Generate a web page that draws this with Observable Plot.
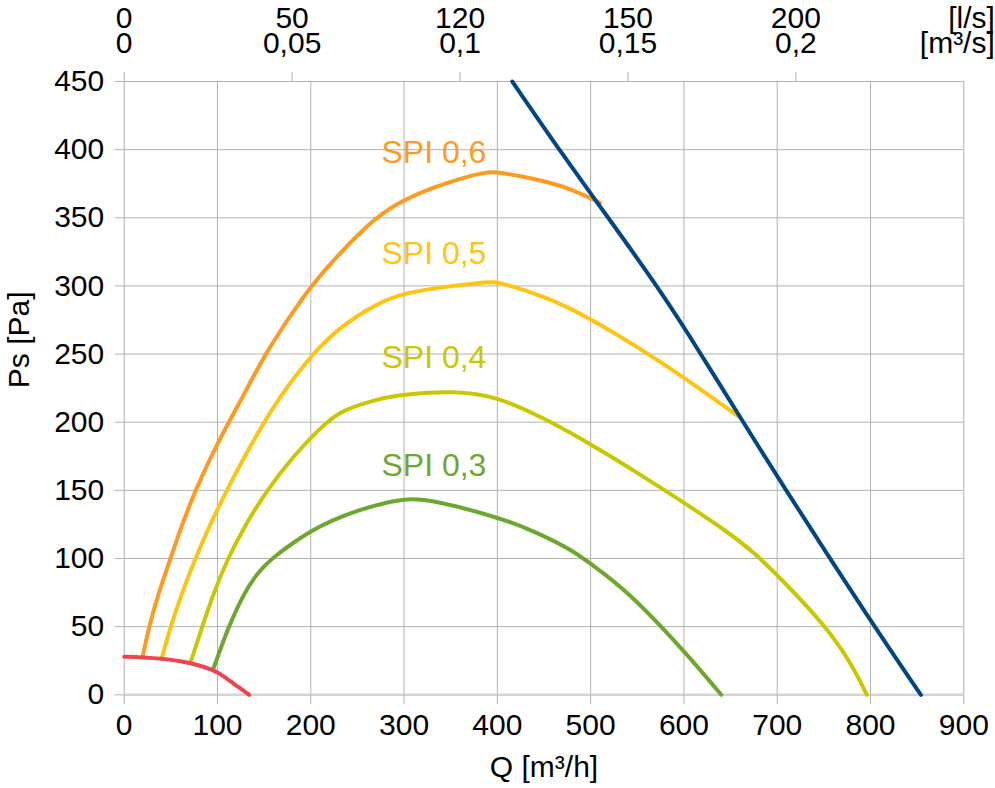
<!DOCTYPE html>
<html><head><meta charset="utf-8">
<script src="https://cdn.jsdelivr.net/npm/d3@7"></script>
<script src="https://cdn.jsdelivr.net/npm/@observablehq/plot@0.6"></script>
<style>body{margin:0;background:#fff} #chart{width:995px;height:788px}</style>
</head><body><div id="chart"></div>
<script>
// ---- data (Q in m³/h, Ps in Pa) ----
const systemQ = [0, 20, 40, 60, 80, 95, 105, 117.5, 126, 134];
const systemP = [28, 27.5, 26.5, 24.8, 21.8, 18.3, 14.5, 8, 4, 0];

const spi06Q = [20, 26.5, 37, 49.6, 62, 76.4, 93, 112, 125, 151, 175, 200, 235, 269, 300, 350, 390, 400, 446, 480, 510];
const spi06P = [28.5, 50, 75, 100, 125, 150, 175, 200, 216, 250, 275, 300, 327, 350, 364, 377, 384, 383.5, 378, 371, 361];

const spi05Q = [40.5, 49.6, 62, 76.4, 92, 110, 129, 150, 164, 201, 235, 271, 300, 350, 393, 400, 453, 500, 553, 600, 659];
const spi05P = [27.5, 50, 75, 100, 125, 150, 175, 200, 216, 250, 272, 287, 295, 300, 303, 303, 292, 276, 254, 233, 204];

const spi04Q = [71, 83.6, 96, 111, 130, 153, 181, 216, 235, 271, 300, 353, 400, 450, 500, 550, 600, 646, 675, 700, 753, 782, 796];
const spi04P = [23.5, 50, 75, 100, 125, 150, 175, 200, 209, 217, 220.5, 223, 219, 203, 184, 163, 141, 120, 104.5, 88, 50, 20, 0];

const spi03Q = [96, 104, 112, 128, 140, 150, 162, 180, 200, 221, 251, 280, 303, 330, 400, 440, 481, 500, 539, 600, 640];
const spi03P = [20, 35, 50, 74, 86.5, 94.5, 102, 111, 120, 127.5, 135.5, 141, 144, 143, 130.5, 120, 106, 96, 76.6, 32.5, 0];

const limitQ = [416, 466, 519, 571, 600, 660, 700, 800, 854];
const limitP = [450, 400, 350, 300, 270, 204, 160, 54, 0];

const spiNames = ["SPI 0,6", "SPI 0,5", "SPI 0,4", "SPI 0,3"];

const xTicks = [0, 100, 200, 300, 400, 500, 600, 700, 800, 900];
const yTicks = [0, 50, 100, 150, 200, 250, 300, 350, 400, 450];
const topTickQ = [0, 180, 360, 540, 720];
const topLabelsLs = ["0", "50", "120", "150", "200"];
const topLabelsM3s = ["0", "0,05", "0,1", "0,15", "0,2"];

// ---- tables ----
const toRows = (qs, ps) => qs.map((q, i) => ({Q: q, P: ps[i]}));
const system = toRows(systemQ, systemP);
const spiSeries = [toRows(spi06Q, spi06P), toRows(spi05Q, spi05P), toRows(spi04Q, spi04P), toRows(spi03Q, spi03P)];
const limit = toRows(limitQ, limitP);

const spiColors = ["#ff9a1e", "#ffc40f", "#c9c800", "#6ea72f"];
const labelQ = 332;
const interp = (rows, q) => {
  for (let i = 1; i < rows.length; i++) {
    if (rows[i].Q >= q) {
      const a = rows[i-1], b = rows[i];
      return a.P + (b.P - a.P) * (q - a.Q) / (b.Q - a.Q);
    }
  }
  return rows[rows.length-1].P;
};
const labels = spiSeries.map((rows, i) => ({Q: labelQ, P: interp(rows, labelQ), name: spiNames[i], color: spiColors[i]}));

const font = "'Liberation Sans', Arial, sans-serif";

const chart = Plot.plot({
  width: 995, height: 788,
  marginLeft: 123.7, marginRight: 31.7, marginTop: 81, marginBottom: 93.7,
  style: {fontFamily: font, fontSize: "30px", color: "black", background: "white"},
  x: {domain: [0, 900]},
  y: {domain: [0, 450]},
  marks: [
    Plot.gridX(xTicks, {stroke: "#b3b3b3", strokeOpacity: 1}),
    Plot.gridY(yTicks, {stroke: "#b3b3b3", strokeOpacity: 1}),
    Plot.ruleY([0], {stroke: "#d4d4d4", strokeWidth: 2.5}),
    Plot.axisX(xTicks, {anchor: "bottom", tickSize: 10, tickPadding: 9, fontSize: 30, stroke: "#b3b3b3", label: null, tickFormat: d => String(d)}),
    Plot.axisY(yTicks, {anchor: "left", tickSize: 9, tickPadding: 11, fontSize: 30, stroke: "#b3b3b3", label: null, tickFormat: d => String(d)}),
    Plot.axisX(topTickQ, {anchor: "top", tickSize: 10, tickPadding: 19, fontSize: 30, stroke: "#b3b3b3", label: null, tickFormat: d => topLabelsM3s[topTickQ.indexOf(d)]}),
    Plot.text(topTickQ, {x: d => d, text: d => topLabelsLs[topTickQ.indexOf(d)], frameAnchor: "top", dy: -54, lineAnchor: "bottom", fontSize: 30, fill: "black"}),
    Plot.text(["[l/s]"], {text: d => d, frameAnchor: "top-right", dx: 31, dy: -54, textAnchor: "end", lineAnchor: "bottom", fontSize: 30, fill: "black"}),
    Plot.text(["[m³/s]"], {text: d => d, frameAnchor: "top-right", dx: 31, dy: -29, textAnchor: "end", lineAnchor: "bottom", fontSize: 30, fill: "black"}),
    Plot.text(["Q [m³/h]"], {text: d => d, frameAnchor: "bottom", dy: 73, lineAnchor: "middle", fontSize: 30, fill: "black"}),
    Plot.text(["Ps [Pa]"], {text: d => d, frameAnchor: "left", dx: -105, rotate: -90, lineAnchor: "middle", fontSize: 30, fill: "black"}),
    ...spiSeries.map((rows, i) => Plot.line(rows, {x: "Q", y: "P", stroke: spiColors[i], strokeWidth: 4, curve: "basis"})),
    Plot.line(system, {x: "Q", y: "P", stroke: "#f0424f", strokeWidth: 4, curve: "basis"}),
    Plot.line(limit, {x: "Q", y: "P", stroke: "#004586", strokeWidth: 4, curve: "basis"}),
    Plot.text(labels, {x: "Q", y: "P", text: "name", fill: "color", dy: -24, lineAnchor: "bottom", textAnchor: "middle", fontSize: 32})
  ]
});
document.getElementById("chart").appendChild(chart);
</script>
</body></html>
